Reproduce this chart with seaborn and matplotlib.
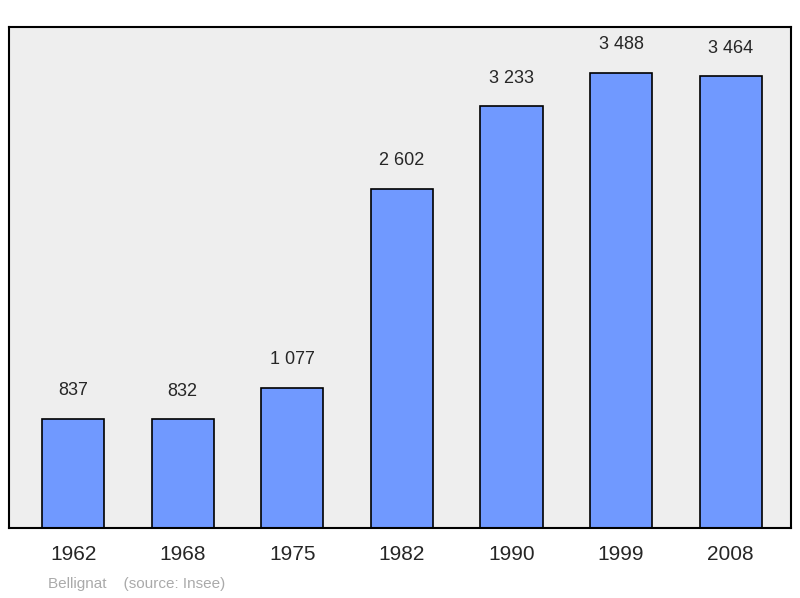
import matplotlib
matplotlib.use("Agg")
import matplotlib.pyplot as plt
import seaborn as sns
import pandas as pd

years = ["1962", "1968", "1975", "1982", "1990", "1999", "2008"]
population = [837, 832, 1077, 2602, 3233, 3488, 3464]
labels = ["837", "832", "1 077", "2 602", "3 233", "3 488", "3 464"]

sns.set_style("white")
plt.rcParams['font.family'] = ['Liberation Sans', 'DejaVu Sans']

fig = plt.figure(figsize=(8, 5.98), dpi=100)
ax = fig.add_axes([9/800, 1-528/598, 782/800, 501/598])
df = pd.DataFrame({"year": years, "pop": population})
sns.barplot(data=df, x="year", y="pop", color="#7099ff", saturation=1,
            width=0.567, edgecolor="black", linewidth=1.2, ax=ax)
ax.set_facecolor("#eeeeee")
ax.set_xlim(-0.585, 6.55)
ax.set_ylim(0, 3841)
ax.set_yticks([])
ax.set_xlabel("")
ax.set_ylabel("")
for s in ax.spines.values():
    s.set_color("black")
    s.set_linewidth(1.5)
ax.tick_params(axis="x", length=0, labelsize=15, pad=12)
for i, (v, t) in enumerate(zip(population, labels)):
    ax.text(i, v + 150, t, ha="center", va="bottom", fontsize=13)
fig.text(48/800, 1-584/598, "Bellignat    (source: Insee)", fontsize=11,
         color="#aaaaaa", va="center")
fig.savefig("out.png", dpi=100)
